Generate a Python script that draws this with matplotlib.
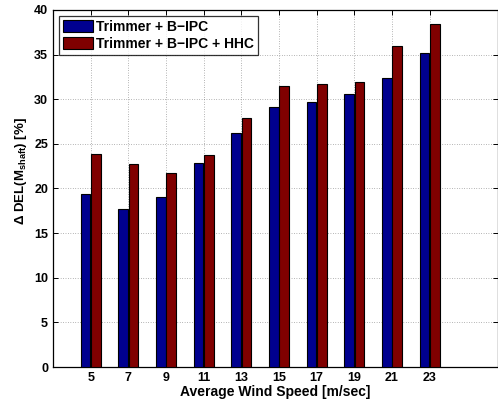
import matplotlib

matplotlib.use("Agg")
import matplotlib.pyplot as plt
import numpy as np

WIND_SPEEDS = [5, 7, 9, 11, 13, 15, 17, 19, 21, 23]
TRIMMER_BIPC = [19.35, 17.7, 19.1, 22.9, 26.2, 29.1, 29.7, 30.55, 32.35, 35.2]
TRIMMER_BIPC_HHC = [23.9, 22.8, 21.7, 23.7, 27.95, 31.5, 31.7, 31.9, 36.0, 38.4]
SERIES_LABELS = ["Trimmer + B\u2212IPC", "Trimmer + B\u2212IPC + HHC"]
Y_TICKS = [0, 5, 10, 15, 20, 25, 30, 35, 40]

plt.rcParams["font.family"] = ["Liberation Sans", "DejaVu Sans"]
plt.rcParams["font.weight"] = "bold"
plt.rcParams["mathtext.fontset"] = "custom"
plt.rcParams["mathtext.rm"] = "Liberation Sans:bold"
plt.rcParams["mathtext.it"] = "Liberation Sans:bold"

fig = plt.figure(figsize=(4.98, 4.05), dpi=100)
ax = fig.add_axes([53 / 498, 38 / 405, 445 / 498, 357 / 405])

x = np.array(WIND_SPEEDS, dtype=float)
width = 0.5
offset = 0.275
ax.bar(x - offset, TRIMMER_BIPC, width, color="#00008f", edgecolor="black",
       linewidth=0.8, label=SERIES_LABELS[0], zorder=3)
ax.bar(x + offset, TRIMMER_BIPC_HHC, width, color="#800000", edgecolor="black",
       linewidth=0.8, label=SERIES_LABELS[1], zorder=3)

ax.set_xlim(3, 26.63)
ax.set_ylim(0, 40)
ax.set_xticks(WIND_SPEEDS)
ax.set_yticks(Y_TICKS)
ax.tick_params(direction="in", length=3.5, width=0.7, labelsize=9,
               top=True, right=True)
for lbl in ax.get_xticklabels() + ax.get_yticklabels():
    lbl.set_fontweight("bold")

ax.grid(True, linestyle=(0, (1, 2.5)), color="#707070", linewidth=0.5, zorder=0)
ax.set_axisbelow(True)
for spine in ax.spines.values():
    spine.set_linewidth(0.9)

ax.set_xlabel("Average Wind Speed [m/sec]", fontsize=10, fontweight="bold", labelpad=1)
ax.set_ylabel(r"$\Delta$ DEL(M$_{\mathrm{shaft}}$) [%]", fontsize=9.5,
              fontweight="bold")
ax.yaxis.set_label_coords(-0.055, 0.55)

leg = ax.legend(loc="upper left", fontsize=10, frameon=True, fancybox=False,
                edgecolor="black", borderaxespad=0.4, handlelength=2.2,
                handleheight=0.95, handletextpad=0.2, borderpad=0.3,
                labelspacing=0.25)
leg.get_frame().set_linewidth(0.9)
for text in leg.get_texts():
    text.set_fontweight("bold")

fig.savefig("out.png", dpi=100, facecolor="white")
